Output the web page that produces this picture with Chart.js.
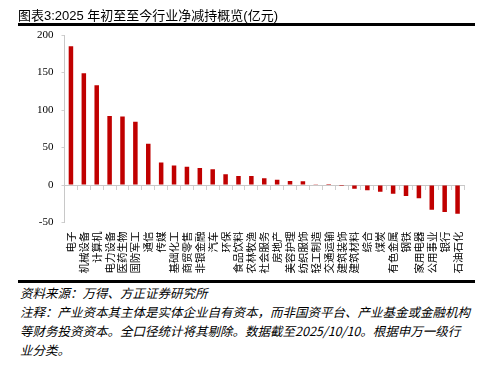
<!DOCTYPE html>
<html><head><meta charset="utf-8">
<script src="https://cdn.jsdelivr.net/npm/chart.js@4"></script>
<style>
html,body{margin:0;padding:0;background:#fff;}
body{width:492px;height:366px;position:relative;overflow:hidden;}
#title{position:absolute;left:18px;top:5px;font:13px "Liberation Sans","Noto Sans CJK SC",sans-serif;color:#000;white-space:nowrap;}
.rule{position:absolute;left:18px;width:457px;height:2.5px;background:#000;}
#wrap{position:absolute;left:0;top:0;width:492px;height:280px;}
#foot{position:absolute;left:20px;top:283px;font:italic 12.5px/19.1px "Noto Sans CJK SC",sans-serif;color:#000;white-space:nowrap;}
</style></head>
<body>
<div id="wrap"><canvas id="c" width="492" height="280"></canvas></div>
<div id="title">图表3:2025 年初至至今行业净减持概览(亿元)</div>
<div class="rule" style="top:23px"></div>
<div class="rule" style="top:280px"></div>
<div id="foot">资料来源：万得、方正证券研究所<br>注释：产业资本其主体是实体企业自有资本，而非国资平台、产业基金或金融机构<br>等财务投资资本。全口径统计将其剔除。数据截至2025/10/10。根据申万一级行<br>业分类。</div>
<script>
const categories = ["电子","机械设备","计算机","电力设备","医药生物","国防军工","通信","传媒","基础化工","商贸零售","非银金融","汽车","环保","食品饮料","农林牧渔","社会服务","房地产","美容护理","纺织服饰","轻工制造","交通运输","建筑装饰","建筑材料","综合","煤炭","有色金属","钢铁","家用电器","公用事业","银行","石油石化"];
const netReduction = [185,149,133,92,91.5,84.5,55,30,26,24.5,22.7,21,14.2,12,12,8.9,7.1,5.3,4.9,0.5,0.1,-1.2,-4.9,-7.1,-8.9,-11.6,-14.7,-17.8,-32.9,-36,-38.2];
const yMin = -50, yMax = 200, yStep = 50;

new Chart(document.getElementById('c'), {
  type: 'bar',
  data: {
    labels: categories,
    datasets: [{
      data: netReduction,
      backgroundColor: '#C00000',
      borderWidth: 0,
      categoryPercentage: 1,
      barPercentage: 0.35
    }]
  },
  options: {
    responsive: false,
    animation: false,
    events: [],
    layout: { padding: { top: 35, right: 28, left: 0, bottom: 0 } },
    plugins: { legend: { display: false }, tooltip: { enabled: false }, title: { display: false } },
    scales: {
      x: {
        position: 'bottom',
        offset: true,
        grid: { display: false, drawTicks: false },
        border: { display: false },
        ticks: {
          autoSkip: false, minRotation: 90, maxRotation: 90, padding: 9,
          color: '#000', font: { family: '"Noto Sans CJK SC"', size: 10.5 }
        },
        afterFit: s => { s.height = 57.5; }
      },
      x2: {
        type: 'category',
        labels: categories,
        position: { y: 0 },
        offset: true,
        grid: { display: true, offset: true, drawOnChartArea: false, drawTicks: true, tickLength: 4, color: '#cfcfcf' },
        border: { display: true, color: '#c8c8c8', width: 1 },
        ticks: { display: false }
      },
      y: {
        position: 'left',
        min: yMin, max: yMax,
        ticks: { stepSize: yStep, padding: 8, color: '#000', font: { family: '"Liberation Serif"', size: 11 } },
        grid: { drawOnChartArea: false, drawTicks: true, tickLength: 3, color: '#cfcfcf' },
        border: { display: true, color: '#c8c8c8', width: 1 },
        afterFit: s => { s.width = 64.5; }
      }
    }
  }
});
</script>
</body></html>
